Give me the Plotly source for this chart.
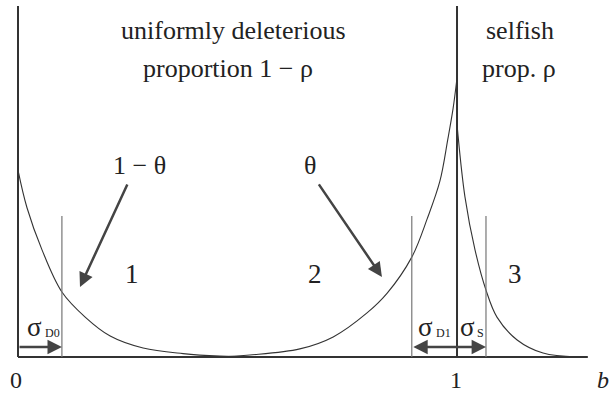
import plotly.graph_objects as go

W, H = 610, 396

# Fitness-effect densities along b (read at sample points)
b_left = [0.0, 0.0205, 0.0547, 0.1, 0.153, 0.21, 0.285, 0.376, 0.46, 0.55]
f_left = [0.670, 0.535, 0.384, 0.233, 0.143, 0.075, 0.032, 0.012, 0.003, 0.0]

b_mid = [0.46, 0.528, 0.642, 0.718, 0.795, 0.841, 0.897, 0.932, 0.961, 0.979, 0.991, 1.0]
f_mid = [0.0, 0.007, 0.029, 0.072, 0.158, 0.229, 0.358, 0.495, 0.63, 0.78, 0.89, 1.0]

b_right = [1.0, 1.002, 1.018, 1.041, 1.066, 1.091, 1.137, 1.196, 1.273]
f_right = [0.839, 0.80, 0.575, 0.384, 0.240, 0.143, 0.061, 0.014, 0.0]

# Region widths
sigma_D0 = 0.1
sigma_D1 = 0.103
sigma_S = 0.066

# Axis extents
b_max = 1.298
f_top = 1.258
guide_top = 0.505

X_RANGE = [-0.041, 1.3485]
Y_RANGE = [-0.1398, 1.2796]

SERIF = "Liberation Serif"
DARK = "#333333"
ARROW = "#444444"
TEXT = "#222222"

fig = go.Figure()

curve_style = dict(color=DARK, width=1.1, shape="spline", smoothing=1.0)
for bx, fy in [(b_left, f_left), (b_mid, f_mid), (b_right, f_right)]:
    fig.add_trace(go.Scatter(x=bx, y=fy, mode="lines", line=curve_style,
                             hoverinfo="skip", showlegend=False))

shapes = [
    # baseline and vertical axes
    dict(type="line", x0=0, x1=b_max, y0=0, y1=0, line=dict(color=DARK, width=2.2)),
    dict(type="line", x0=0, x1=0, y0=0, y1=f_top, line=dict(color=DARK, width=2)),
    dict(type="line", x0=1, x1=1, y0=0, y1=f_top, line=dict(color=DARK, width=2)),
    # region boundaries
    dict(type="line", x0=sigma_D0, x1=sigma_D0, y0=0, y1=guide_top,
         line=dict(color="#777777", width=1.2)),
    dict(type="line", x0=1 - sigma_D1, x1=1 - sigma_D1, y0=0, y1=guide_top,
         line=dict(color="#777777", width=1.2)),
    dict(type="line", x0=1 + sigma_S, x1=1 + sigma_S, y0=0, y1=guide_top,
         line=dict(color="#777777", width=1.2)),
]

def P(px, py):
    return px / W, 1 - py / H

annotations = []

def label(text, px, py, size=26, **kw):
    x, y = P(px, py)
    annotations.append(dict(text=text, x=x, y=y, xref="paper", yref="paper",
                            showarrow=False, xanchor="center", yanchor="middle",
                            font=dict(family=SERIF, size=size, color=TEXT), **kw))

label("uniformly deleterious", 233, 30)
label("proportion 1 \u2212 \u03c1", 228, 68)
label("selfish", 520, 30)
label("prop. \u03c1", 519, 68)
label("1 \u2212 \u03b8", 139, 165)
label("\u03b8", 310, 165)
label("1", 132, 274, size=27)
label("2", 315, 274, size=27)
label("3", 515, 274, size=27)
label("0", 16, 380, size=24)
label("1", 456, 380, size=24)
label("<i>b</i>", 603, 380, size=24)

# sigma labels with small subscripts
label("\u03c3", 34, 327, size=27)
label("D0", 52, 333, size=12)
label("\u03c3", 425, 327, size=27)
label("D1", 443, 333, size=12)
label("\u03c3", 467, 327, size=27)
label("S", 480, 333, size=12)

arrow_y = 0.036
def arrow(x_head, y_head, x_tail, y_tail, both=False):
    annotations.append(dict(x=x_head, y=y_head, ax=x_tail, ay=y_tail,
                            xref="x", yref="y", axref="x", ayref="y",
                            text="", showarrow=True, arrowhead=2, startarrowhead=2,
                            arrowside="end+start" if both else "end",
                            arrowsize=1.15, startarrowsize=1.15,
                            arrowwidth=2.5, arrowcolor=ARROW))

arrow(sigma_D0, arrow_y, 0, arrow_y)
arrow(1 + sigma_S, arrow_y, 1 - sigma_D1, arrow_y, both=True)
# pointers from the θ labels to the curves
arrow(0.1412, 0.251, 0.2506, 0.624)
arrow(0.829, 0.287, 0.683, 0.624)

fig.update_layout(
    width=W, height=H,
    margin=dict(l=0, r=0, t=0, b=0),
    paper_bgcolor="white", plot_bgcolor="white",
    xaxis=dict(range=X_RANGE, visible=False, fixedrange=True),
    yaxis=dict(range=Y_RANGE, visible=False, fixedrange=True),
    shapes=shapes, annotations=annotations,
    showlegend=False,
)

fig.write_html("out.html", config=dict(displayModeBar=False))
